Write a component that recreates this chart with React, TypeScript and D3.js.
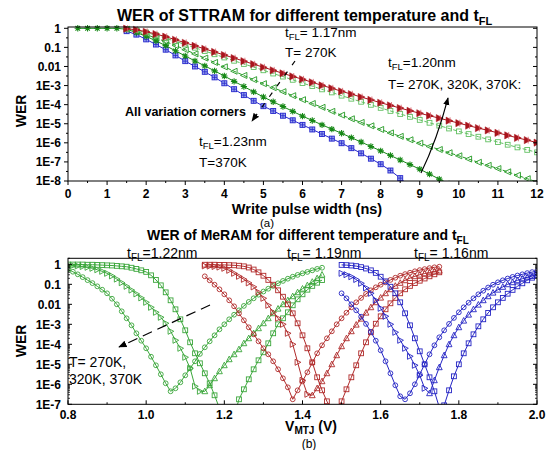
import React from "react";
import * as d3 from "d3";

const FONT = "'Liberation Sans', Arial, Helvetica, sans-serif";

// ---------- (a) STTRAM : log10(WER) every 0.25 ns ----------
const pulseStep = 0.25;
const pulseTicks = [0, 1, 2, 3, 4, 5, 6, 7, 8, 9, 10, 11, 12];
const werLabelsA = ["1", "0.1", "0.01", "1E-3", "1E-4", "1E-5", "1E-6", "1E-7", "1E-8"];

// tFL=1.17nm, T=270K
const red117Start = 1.5;
const red117 = [
  -0.02, -0.08, -0.18, -0.3, -0.44, -0.6, -0.76, -0.92, -1.08, -1.24,
  -1.4, -1.56, -1.72, -1.88, -2.04, -2.2, -2.36, -2.52, -2.67, -2.83,
  -2.99, -3.14, -3.3, -3.45, -3.6, -3.75, -3.9, -4.04, -4.18, -4.32,
  -4.45, -4.58, -4.71, -4.84, -4.97, -5.1, -5.23, -5.35, -5.48, -5.61,
  -5.74, -5.86, -5.99,
];
// tFL=1.20nm, three temperatures
const sq120Start = 1.5;
const sq120 = [
  -0.03, -0.1, -0.22, -0.36, -0.52, -0.68, -0.85, -1.02, -1.19, -1.36,
  -1.53, -1.7, -1.87, -2.03, -2.2, -2.37, -2.53, -2.7, -2.87, -3.03,
  -3.2, -3.36, -3.53, -3.69, -3.85, -4.01, -4.17, -4.33, -4.49, -4.64,
  -4.8, -4.95, -5.1, -5.25, -5.4, -5.54, -5.68, -5.82, -5.96, -6.1,
  -6.24, -6.37, -6.5,
];
const tri120Start = 1.5;
const tri120 = [
  -0.05, -0.17, -0.33, -0.51, -0.7, -0.9, -1.12, -1.34, -1.56, -1.79,
  -2.02, -2.25, -2.47, -2.69, -2.9, -3.11, -3.32, -3.53, -3.74, -3.94,
  -4.14, -4.35, -4.55, -4.74, -4.93, -5.11, -5.3, -5.48, -5.66, -5.84,
  -6.02, -6.19, -6.35, -6.52, -6.68, -6.85, -7.02, -7.18, -7.35, -7.52,
  -7.7, -7.88, -8.05,
];
const star120Start = 0.25;
const star120 = [
  0, 0, 0, 0, 0, -0.05, -0.22, -0.42, -0.66, -0.91,
  -1.18, -1.45, -1.71, -1.97, -2.23, -2.5, -2.78, -3.05, -3.33, -3.6,
  -3.85, -4.1, -4.35, -4.6, -4.83, -5.06, -5.28, -5.5, -5.73, -5.96,
  -6.19, -6.42, -6.66, -6.9, -7.14, -7.38, -7.64, -7.9, -8.15,
];
// tFL=1.23nm, T=370K
const blue123Start = 1.5;
const blue123 = [
  -0.15, -0.33, -0.58, -0.85, -1.12, -1.42, -1.72, -2.0, -2.28, -2.57,
  -2.88, -3.19, -3.5, -3.8, -4.08, -4.33, -4.58, -4.82, -5.06, -5.3,
  -5.54, -5.78, -6.02, -6.28, -6.55, -6.83, -7.12, -7.45, -7.85, -8.3,
];

// ---------- (b) MeRAM : log10(WER) every 0.0125 V ----------
const voltStep = 0.0125;
const voltTicks = [0.8, 1.0, 1.2, 1.4, 1.6, 1.8, 2.0];
const werLabelsB = ["1", "0.1", "0.01", "1E-3", "1E-4", "1E-5", "1E-6", "1E-7"];

const g122Start = 0.8;
const g122Circle = [
  -0.25, -0.37, -0.5, -0.64, -0.79, -0.94, -1.1, -1.27, -1.45, -1.72,
  -2.0, -2.35, -2.7, -3.05, -3.45, -3.82, -4.2, -4.62, -5.05, -5.5,
  -5.95, -6.35, -6.2, -5.9, -5.55, -5.2, -4.85, -4.48, -4.15, -3.85,
  -3.55, -3.25, -3.0, -2.75, -2.52, -2.3, -2.08, -1.88, -1.7, -1.52,
  -1.36, -1.22, -1.08, -0.95, -0.83, -0.72, -0.62, -0.53, -0.45, -0.38,
  -0.3, -0.23, -0.17,
];
const g122Tri = [
  -0.05, -0.06, -0.08, -0.11, -0.15, -0.2, -0.27, -0.35, -0.45, -0.58,
  -0.74, -0.92, -1.1, -1.29, -1.48, -1.68, -1.9, -2.15, -2.4, -2.65,
  -2.95, -3.35, -3.8, -4.2, -4.65, -5.2, -6.1, -6.35, -6.35, -6.05,
  -5.7, -5.35, -5.05, -4.75, -4.5, -4.25, -3.95, -3.7, -3.45, -3.2,
  -2.95, -2.7, -2.45, -2.22, -2.0, -1.8, -1.6, -1.4, -1.22, -1.05,
  -0.88, -0.7, -0.52,
];
const g122Square = [
  -0.01, -0.01, -0.01, -0.01, -0.02, -0.02, -0.03, -0.04, -0.05, -0.06,
  -0.08, -0.1, -0.12, -0.17, -0.23, -0.3, -0.38, -0.55, -0.78, -1.05,
  -1.4, -1.8, -2.25, -2.75, -3.3, -3.9, -4.45, -4.95, -5.45, -5.95,
  -6.55, -7.2, -7.8, -8.2, -7.6, -6.75, -6.25, -5.75, -5.25, -4.8,
  -4.4, -3.95, -3.45, -3.0, -2.7, -2.4, -2.05, -1.75, -1.5, -1.27,
  -1.08, -0.92, -0.79,
];

const r119Start = 1.15;
const r119Circle = [
  -0.6, -0.8, -1.02, -1.25, -1.5, -1.8, -2.1, -2.45, -2.8, -3.15,
  -3.5, -3.85, -4.2, -4.5, -4.85, -5.25, -5.7, -6.15, -6.75, -6.3,
  -5.85, -5.4, -4.92, -4.45, -4.05, -3.7, -3.35, -3.0, -2.7, -2.42,
  -2.15, -1.9, -1.68, -1.48, -1.3, -1.15, -1.02, -0.9, -0.78, -0.67,
  -0.57, -0.49, -0.42, -0.35, -0.29, -0.24, -0.19, -0.15, -0.12,
];
const r119Tri = [
  -0.08, -0.09, -0.11, -0.14, -0.2, -0.3, -0.45, -0.6, -0.75, -0.93,
  -1.13, -1.4, -1.7, -2.05, -2.4, -2.7, -3.0, -3.45, -4.0, -4.9,
  -5.8, -6.5, -6.55, -6.2, -5.85, -5.45, -5.0, -4.55, -4.1, -3.7,
  -3.35, -3.02, -2.72, -2.42, -2.15, -1.9, -1.67, -1.45, -1.25, -1.08,
  -0.93, -0.8, -0.69, -0.6, -0.52, -0.46, -0.41, -0.36, -0.32,
];
const r119Square = [
  -0.02, -0.02, -0.02, -0.03, -0.03, -0.04, -0.05, -0.07, -0.1, -0.16,
  -0.26, -0.4, -0.57, -0.78, -1.02, -1.3, -1.62, -2.0, -2.45, -2.95,
  -3.55, -4.2, -4.9, -5.65, -6.3, -6.85, -7.3, -7.4, -6.85, -6.25,
  -5.65, -5.05, -4.45, -3.9, -3.4, -2.97, -2.6, -2.25, -1.95, -1.68,
  -1.45, -1.25, -1.08, -0.94, -0.82, -0.71, -0.6, -0.5, -0.4,
];

const b116Start = 1.5;
const b116Circle = [
  -1.45, -1.7, -2.0, -2.3, -2.62, -2.98, -3.38, -3.82, -4.3, -4.85,
  -5.45, -6.05, -6.6, -6.75, -6.45, -6.0, -5.5, -5.0, -4.5, -4.05,
  -3.65, -3.3, -2.98, -2.68, -2.4, -2.15, -1.92, -1.7, -1.5, -1.32,
  -1.16, -1.02, -0.9, -0.8, -0.71, -0.63, -0.56, -0.5, -0.44, -0.39,
  -0.34,
];
const b116Tri = [
  -0.45, -0.52, -0.62, -0.76, -0.95, -1.18, -1.45, -1.8, -2.2, -2.6,
  -3.0, -3.4, -3.8, -4.2, -4.6, -5.05, -5.55, -6.2, -6.45, -5.8,
  -5.15, -4.55, -4.0, -3.55, -3.15, -2.82, -2.52, -2.25, -2.02, -1.8,
  -1.6, -1.42, -1.27, -1.13, -1.0, -0.9, -0.8, -0.72, -0.65, -0.59,
  -0.53,
];
const b116Square = [
  -0.03, -0.04, -0.06, -0.09, -0.14, -0.21, -0.3, -0.43, -0.62, -0.85,
  -1.12, -1.45, -1.9, -2.45, -3.05, -3.7, -4.35, -5.0, -5.65, -6.35,
  -7.15, -7.05, -6.3, -5.6, -5.0, -4.45, -3.95, -3.5, -3.1, -2.75,
  -2.43, -2.15, -1.9, -1.68, -1.47, -1.28, -1.1, -0.95, -0.8, -0.67,
  -0.55,
];

const RED = "#a8141c";
const LGREEN = "#62c062";
const GREEN = "#249a24";
const DGREEN = "#168816";
const BLUE = "#2626cc";
const MGREEN = "#3aa63a";
const MRED = "#b02a2a";
const MBLUE = "#2424c4";

// plot boxes
const A = { left: 68, right: 537, top: 27, bottom: 181 };
const B = { left: 68, right: 537, top: 258.3, bottom: 404.3 };

const xA = d3.scaleLinear().domain([0, 12]).range([A.left, A.right]);
const yA = d3.scaleLog().domain([1e-8, 1.17]).range([A.bottom, A.top]);
const xB = d3.scaleLinear().domain([0.8, 2.0]).range([B.left, B.right]);
const yB = d3.scaleLog().domain([1e-7, 2]).range([B.bottom, B.top]);

type Pt = { x: number; y: number; rising: boolean };

function toPoints(start: number, step: number, logs: number[]): Pt[] {
  return logs.map((v, i) => {
    const next = i < logs.length - 1 ? logs[i + 1] - v : v - logs[i - 1];
    return { x: start + i * step, y: Math.pow(10, v), rising: next > 0 };
  });
}

function Glyph({ kind, x, y, color, rising }: { kind: string; x: number; y: number; color: string; rising: boolean }) {
  const t = `translate(${x},${y})`;
  switch (kind) {
    case "rtri":
      return (
        <g transform={t}>
          <path d="M-3,-3.6L3.8,0L-3,3.6Z" fill={color} stroke={color} strokeWidth={0.5} />
          <path d="M1,-3.4V3.4" stroke="#d8606a" strokeWidth={0.8} />
        </g>
      );
    case "square":
      return <rect x={x - 2.4} y={y - 2.4} width={4.8} height={4.8} fill="none" stroke={color} strokeWidth={0.9} />;
    case "ltri":
      return <path transform={t} d="M3,-3L-3.4,0L3,3Z" fill="none" stroke={color} strokeWidth={0.9} />;
    case "star":
      return (
        <path transform={t} d="M-3.2,0H3.2M0,-3.2V3.2M-2.3,-2.3L2.3,2.3M2.3,-2.3L-2.3,2.3" stroke={color} strokeWidth={1.1} />
      );
    case "boxplus":
      return (
        <g transform={t}>
          <rect x={-2.5} y={-2.5} width={5} height={5} fill="#9aa6ee" stroke={color} strokeWidth={0.9} />
          <path d="M-2.5,0H2.5M0,-2.5V2.5" stroke={color} strokeWidth={0.8} />
        </g>
      );
    case "circle":
      return <circle cx={x} cy={y} r={2.4} fill="none" stroke={color} strokeWidth={0.9} />;
    case "tri":
      return (
        <path
          transform={t}
          d={rising ? "M0,-3.2L2.9,2.4L-2.9,2.4Z" : "M-2.5,-3L3.2,0L-2.5,3Z"}
          fill="none"
          stroke={color}
          strokeWidth={0.9}
        />
      );
    default:
      return null;
  }
}

function Series({ pts, x, y, color, kind, dash }: any) {
  const line = d3
    .line<Pt>()
    .x((d) => x(d.x))
    .y((d) => y(d.y));
  return (
    <g>
      <path d={line(pts) || ""} fill="none" stroke={color} strokeWidth={1} strokeDasharray={dash || undefined} />
      {pts.map((d: Pt, i: number) => (
        <Glyph key={i} kind={kind} x={x(d.x)} y={y(d.y)} color={color} rising={d.rising} />
      ))}
    </g>
  );
}

const seriesA = [
  { start: blue123Start, logs: blue123, color: BLUE, kind: "boxplus", dash: null },
  { start: star120Start, logs: star120, color: DGREEN, kind: "star", dash: null },
  { start: tri120Start, logs: tri120, color: GREEN, kind: "ltri", dash: "4,2" },
  { start: sq120Start, logs: sq120, color: LGREEN, kind: "square", dash: "4,2" },
  { start: red117Start, logs: red117, color: RED, kind: "rtri", dash: null },
];

const seriesB = [
  { start: g122Start, logs: g122Circle, color: MGREEN, kind: "circle" },
  { start: g122Start, logs: g122Tri, color: MGREEN, kind: "tri" },
  { start: g122Start, logs: g122Square, color: MGREEN, kind: "square" },
  { start: r119Start, logs: r119Circle, color: MRED, kind: "circle" },
  { start: r119Start, logs: r119Tri, color: MRED, kind: "tri" },
  { start: r119Start, logs: r119Square, color: MRED, kind: "square" },
  { start: b116Start, logs: b116Circle, color: MBLUE, kind: "circle" },
  { start: b116Start, logs: b116Tri, color: MBLUE, kind: "tri" },
  { start: b116Start, logs: b116Square, color: MBLUE, kind: "square" },
];

const tickFont = { fontFamily: FONT, fontSize: 12, fontWeight: "bold" as const };

export default function App() {
  const minorA = d3.range(0, 8).map((k) => Math.pow(10, -k - 0.5));
  const minorB: number[] = [];
  for (let k = -7; k <= 0; k++) for (let m = 2; m <= 9; m++) if (m * Math.pow(10, k) <= 2) minorB.push(m * Math.pow(10, k));
  const minorXA = d3.range(0.5, 12, 1);
  const minorXB = [0.9, 1.1, 1.3, 1.5, 1.7, 1.9];

  return (
    <svg width={546} height={450} style={{ position: "absolute", left: 0, top: 0, background: "#fff" }}>
      <defs>
        <clipPath id="clipA">
          <rect x={A.left} y={A.top - 8} width={A.right - A.left} height={A.bottom - A.top + 8} />
        </clipPath>
        <clipPath id="clipB">
          <rect x={B.left} y={B.top} width={B.right - B.left} height={B.bottom - B.top} />
        </clipPath>
        <marker id="head" viewBox="0 0 10 10" refX={9} refY={5} markerWidth={7} markerHeight={7} orient="auto">
          <path d="M0,1L10,5L0,9Z" fill="#000" />
        </marker>
      </defs>

      {/* ===== chart (a) ===== */}
      <text x={117} y={21} fontFamily={FONT} fontSize={16} fontWeight="bold">
        WER of STTRAM for different temperature and t<tspan fontSize={11} dy={4}>FL</tspan>
      </text>

      <g clipPath="url(#clipA)">
        {seriesA.map((s, i) => (
          <Series key={i} pts={toPoints(s.start, pulseStep, s.logs)} x={xA} y={yA} color={s.color} kind={s.kind} dash={s.dash} />
        ))}
      </g>

      <rect x={A.left} y={A.top} width={A.right - A.left} height={A.bottom - A.top} fill="none" stroke="#000" strokeWidth={1} />

      {werLabelsA.map((lab, i) => {
        const yy = yA(Math.pow(10, -i));
        return (
          <g key={lab}>
            <line x1={A.left - 4} x2={A.left} y1={yy} y2={yy} stroke="#000" />
            <line x1={A.right - 4} x2={A.right} y1={yy} y2={yy} stroke="#000" />
            <text x={A.left - 7} y={yy} dy="0.36em" textAnchor="end" {...tickFont}>
              {lab}
            </text>
          </g>
        );
      })}
      {minorA.map((v, i) => (
        <g key={i}>
          <line x1={A.left - 2} x2={A.left} y1={yA(v)} y2={yA(v)} stroke="#000" />
          <line x1={A.right - 2} x2={A.right} y1={yA(v)} y2={yA(v)} stroke="#000" />
        </g>
      ))}
      {pulseTicks.map((t) => (
        <g key={t}>
          <line x1={xA(t)} x2={xA(t)} y1={A.bottom} y2={A.bottom + 4} stroke="#000" />
          <text x={xA(t)} y={198} textAnchor="middle" {...tickFont}>
            {t}
          </text>
        </g>
      ))}
      {minorXA.map((t) => (
        <line key={t} x1={xA(t)} x2={xA(t)} y1={A.bottom} y2={A.bottom + 2} stroke="#000" />
      ))}

      <text x={307} y={213.5} textAnchor="middle" fontFamily={FONT} fontSize={14.5} fontWeight="bold">
        Write pulse width (ns)
      </text>
      <text x={267} y={226.5} textAnchor="middle" fontFamily={FONT} fontSize={11.5}>
        (a)
      </text>
      <text transform="translate(26,111) rotate(-90)" textAnchor="middle" fontFamily={FONT} fontSize={14} fontWeight="bold">
        WER
      </text>

      {/* annotations (a) */}
      <g fontFamily={FONT} fontSize={13.5}>
        <text x={285} y={37}>
          t<tspan fontSize={9.5} dy={3}>FL</tspan>
          <tspan dy={-3}>= 1.17nm</tspan>
        </text>
        <text x={285} y={57}>T= 270K</text>
        <text x={388} y={67}>
          t<tspan fontSize={9.5} dy={3}>FL</tspan>
          <tspan dy={-3}>=1.20nm</tspan>
        </text>
        <text x={388} y={89}>T= 270K, 320K, 370K:</text>
        <text x={199} y={146}>
          t<tspan fontSize={9.5} dy={3}>FL</tspan>
          <tspan dy={-3}>=1.23nm</tspan>
        </text>
        <text x={199} y={167}>T=370K</text>
        <text x={125} y={116} fontWeight="bold" fontSize={12.5}>
          All variation corners
        </text>
      </g>
      <line x1={295} y1={61} x2={252} y2={121} stroke="#000" strokeWidth={1.2} strokeDasharray="5,8" markerEnd="url(#head)" />
      <path d="M421,173 Q437,140 448,98" fill="none" stroke="#000" strokeWidth={1.1} markerEnd="url(#head)" />

      {/* ===== chart (b) ===== */}
      <text x={147} y={240} fontFamily={FONT} fontSize={14} fontWeight="bold">
        WER of MeRAM for different temperature and t<tspan fontSize={10} dy={4}>FL</tspan>
      </text>

      <g clipPath="url(#clipB)">
        {seriesB.map((s, i) => (
          <Series key={i} pts={toPoints(s.start, voltStep, s.logs)} x={xB} y={yB} color={s.color} kind={s.kind} dash={null} />
        ))}
      </g>

      <rect x={B.left} y={B.top} width={B.right - B.left} height={B.bottom - B.top} fill="none" stroke="#000" strokeWidth={1} />

      {werLabelsB.map((lab, i) => {
        const yy = yB(Math.pow(10, -i));
        return (
          <g key={lab}>
            <line x1={B.left} x2={B.left + 4} y1={yy} y2={yy} stroke="#000" />
            <line x1={B.right - 4} x2={B.right} y1={yy} y2={yy} stroke="#000" />
            <text x={B.left - 7} y={yy} dy="0.36em" textAnchor="end" {...tickFont}>
              {lab}
            </text>
          </g>
        );
      })}
      {minorB.map((v, i) => (
        <g key={i}>
          <line x1={B.left} x2={B.left + 2} y1={yB(v)} y2={yB(v)} stroke="#000" strokeWidth={0.8} />
          <line x1={B.right - 2} x2={B.right} y1={yB(v)} y2={yB(v)} stroke="#000" strokeWidth={0.8} />
        </g>
      ))}
      {voltTicks.map((t) => (
        <g key={t}>
          <line x1={xB(t)} x2={xB(t)} y1={B.bottom} y2={B.bottom - 4} stroke="#000" />
          <text x={xB(t)} y={419} textAnchor="middle" {...tickFont}>
            {t.toFixed(1)}
          </text>
        </g>
      ))}
      {minorXB.map((t) => (
        <line key={t} x1={xB(t)} x2={xB(t)} y1={B.bottom} y2={B.bottom - 2} stroke="#000" />
      ))}

      <text x={311} y={431} textAnchor="middle" fontFamily={FONT} fontSize={14} fontWeight="bold">
        V<tspan fontSize={10} dy={3}>MTJ</tspan>
        <tspan dy={-3}> (V)</tspan>
      </text>
      <text x={309} y={448} textAnchor="middle" fontFamily={FONT} fontSize={12}>
        (b)
      </text>
      <text transform="translate(26,341) rotate(-90)" textAnchor="middle" fontFamily={FONT} fontSize={14} fontWeight="bold">
        WER
      </text>

      {/* annotations (b) */}
      <g fontFamily={FONT} fontSize={14}>
        <text x={127} y={258}>
          t<tspan fontSize={10} dy={3}>FL</tspan>
          <tspan dy={-3}>=1.22nm</tspan>
        </text>
        <text x={287} y={258}>
          t<tspan fontSize={10} dy={3}>FL</tspan>
          <tspan dy={-3}>= 1.19nm</tspan>
        </text>
        <text x={414} y={258}>
          t<tspan fontSize={10} dy={3}>FL</tspan>
          <tspan dy={-3}>= 1.16nm</tspan>
        </text>
        <text x={69} y={367}>T= 270K,</text>
        <text x={69} y={384}>320K, 370K</text>
      </g>
      <line x1={210} y1={305} x2={119} y2={347} stroke="#000" strokeWidth={1.2} strokeDasharray="10,6" markerEnd="url(#head)" />
    </svg>
  );
}
